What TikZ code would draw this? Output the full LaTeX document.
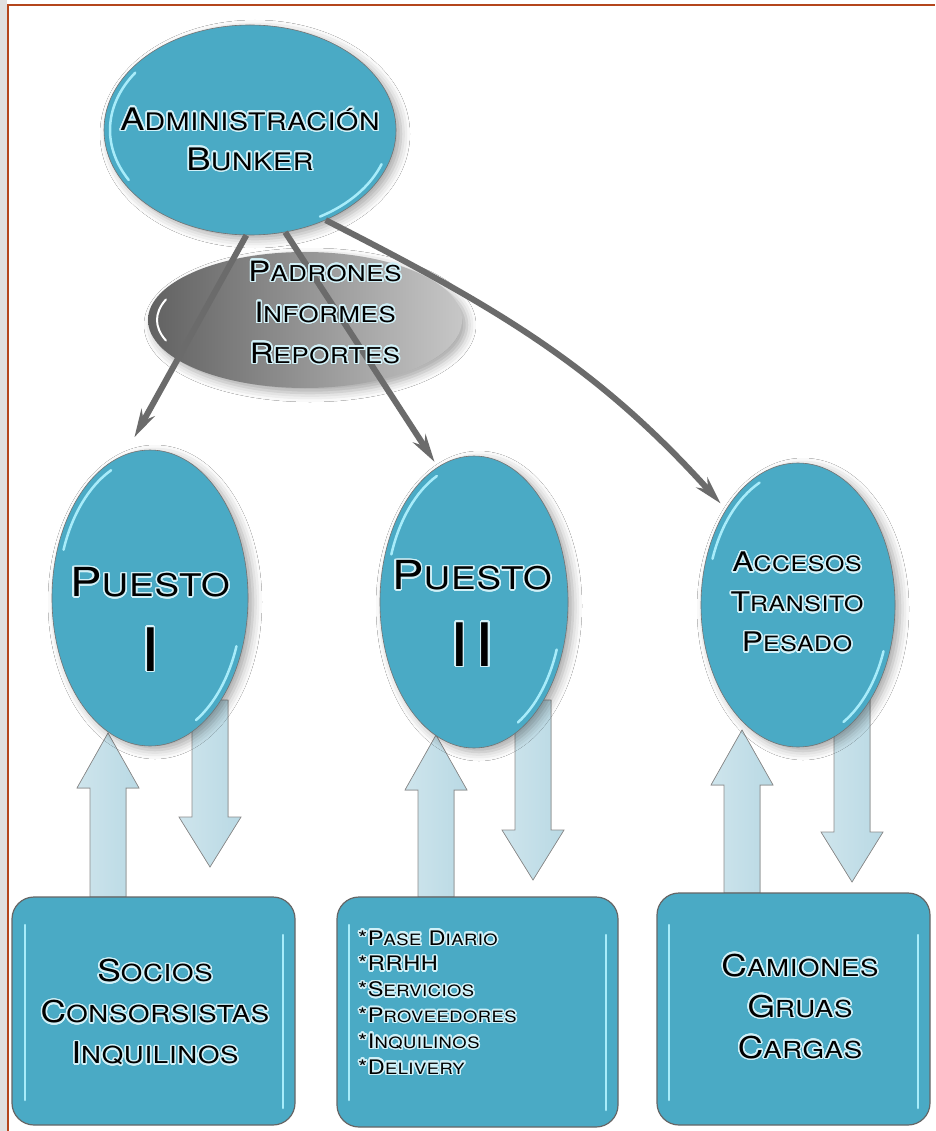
\documentclass[tikz,border=0pt]{standalone}
\usepackage{fontspec}
\usepackage{graphicx}
\usepackage{contour}
\usetikzlibrary{shapes.geometric,arrows.meta,shadows.blur}
\newfontfamily\bank[FakeStretch=1.18,LetterSpace=3]{TeX Gyre Heros}
\definecolor{tealA}{HTML}{4AAAC5}
\definecolor{hlc}{HTML}{A8ECFA}
\definecolor{pale}{HTML}{B9D9E4}
\definecolor{framec}{HTML}{B4461C}
\definecolor{glowc}{HTML}{D2F1F8}
\contourlength{1.5pt}
\contournumber{24}
\newcommand\kc[2]{#1\scalebox{0.78}{#2}}
\newcommand\gl[1]{\contour{glowc}{#1}}
\newcommand\uparr[3]{\filldraw[barr] (#1-18,#2) -- (#1-18,#3+55) -- (#1-31,#3+55) -- (#1,#3) -- (#1+31,#3+55) -- (#1+18,#3+55) -- (#1+18,#2) -- cycle;}
\newcommand\downarr[3]{\filldraw[barr] (#1-18,#2) -- (#1-18,#3-50) -- (#1-31,#3-50) -- (#1,#3) -- (#1+31,#3-50) -- (#1+18,#3-50) -- (#1+18,#2) -- cycle;}
\tikzset{
  bub/.style={ellipse, fill=tealA, draw=black!55, line width=0.6pt, inner sep=0pt,
    blur shadow={shadow xshift=5pt, shadow yshift=-4pt, shadow blur radius=9pt, shadow opacity=35}},
  card/.style={rectangle, rounded corners=22pt, fill=tealA, draw=black!60, line width=1.2pt, inner sep=0pt},
  barr/.style={left color=pale!70!white, right color=pale, draw=black!45, line width=0.7pt},
  pipe/.style={draw=black!58, line width=6pt, -{Stealth[length=28pt,width=15pt]}},
  lbl/.style={align=center, inner sep=0pt, text=black},
  hl/.style={draw=hlc, line width=2.5pt, line cap=round},
}
\begin{document}
\begin{tikzpicture}[x=1pt,y=-1pt]
\useasboundingbox (0,0) rectangle (935,1131);
\fill[white] (0,0) rectangle (935,1131);
\fill[black!12] (0,0) rectangle (7,1131);
\draw[framec, line width=2.5pt] (8,1131) -- (8,5) -- (935,5);

% block arrows
\uparr{108}{897}{733}
\downarr{210}{700}{867}
\uparr{436}{897}{735}
\downarr{533}{700}{880}
\uparr{742}{893}{730}
\downarr{852}{700}{882}

% ellipses
\node[ellipse, inner sep=0pt, minimum width=314pt, minimum height=136pt,
  left color=black!62, right color=black!22, middle color=black!42,
  blur shadow={shadow xshift=5pt, shadow yshift=-5pt, shadow blur radius=9pt, shadow opacity=35}] (grey) at (305,320) {};
\node[bub, minimum width=196pt, minimum height=296pt] (p1) at (150,598) {};
\node[bub, minimum width=188pt, minimum height=292pt] (p2) at (474,602) {};
\node[bub, minimum width=194pt, minimum height=284pt] (p3) at (798,605) {};
\node[bub, minimum width=292pt, minimum height=210pt] (admin) at (250,130) {};

% connectors from admin
\draw[pipe, shorten >=20pt] (admin.268) -- (p1.100);
\draw[pipe, shorten >=6pt] (admin.-71) -- (p2.105);
\draw[pipe, shorten >=8pt] (admin.-50) to[out=-27,in=132] (p3.127);

% highlights
\draw[hl] (admin.center) ++(150:140 and 100) arc[start angle=150, end angle=215, x radius=140, y radius=100];
\draw[hl] (admin.center) ++(20:140 and 100) arc[start angle=20, end angle=60, x radius=140, y radius=100];
\draw[white, line width=2pt, line cap=round] (grey.center) ++(160:148 and 60) arc[start angle=160, end angle=200, x radius=148, y radius=60];
\draw[hl] (p1.center) ++(200:92 and 141) arc[start angle=200, end angle=245, x radius=92, y radius=141];
\draw[hl] (p1.center) ++(20:92 and 141) arc[start angle=20, end angle=60, x radius=92, y radius=141];
\draw[hl] (p2.center) ++(200:88 and 139) arc[start angle=200, end angle=245, x radius=88, y radius=139];
\draw[hl] (p2.center) ++(20:88 and 139) arc[start angle=20, end angle=60, x radius=88, y radius=139];
\draw[hl] (p3.center) ++(200:91 and 135) arc[start angle=200, end angle=245, x radius=91, y radius=135];
\draw[hl] (p3.center) ++(20:91 and 135) arc[start angle=20, end angle=60, x radius=91, y radius=135];

% texts in ellipses
\node[lbl, font=\bank\fontsize{31}{40}\selectfont] (admint) at (250,140) {\gl{\kc{A}{DMINISTRACIÓN}}\\\gl{\kc{B}{UNKER}}};
\node[lbl, font=\bank\fontsize{28}{41}\selectfont] (greyt) at (325,313) {\gl{\kc{P}{ADRONES}}\\\gl{\kc{I}{NFORMES}}\\\gl{\kc{R}{EPORTES}}};
\node[lbl, font=\bank\fontsize{40}{48}\selectfont] (p1a) at (150,583) {\gl{\kc{P}{UESTO}}};
\node[lbl, font=\bank\fontsize{60}{60}\selectfont] (p1b) at (150,650) {\gl{I}};
\node[lbl, font=\bank\fontsize{40}{48}\selectfont] (p2a) at (472,576) {\gl{\kc{P}{UESTO}}};
\node[lbl, font=\bank\fontsize{60}{60}\selectfont] (p2b) at (472,645) {\gl{I\hspace{6pt}I}};
\node[lbl, font=\bank\fontsize{27}{40}\selectfont] (p3t) at (797,603) {\gl{\kc{A}{CCESOS}}\\\gl{\kc{T}{RANSITO}}\\\gl{\kc{P}{ESADO}}};

% boxes
\node[card, minimum width=283pt, minimum height=228pt] (box1) at (153.5,1011) {};
\node[card, minimum width=281pt, minimum height=230pt] (box2) at (477.5,1012) {};
\node[card, minimum width=273pt, minimum height=232pt] (box3) at (793.5,1009) {};
\draw[hl] (25,925) -- (25,1100);
\draw[hl] (283,935) -- (283,1108);
\draw[hl] (349,925) -- (349,1100);
\draw[hl] (606,935) -- (606,1110);
\draw[hl] (669,925) -- (669,1100);
\draw[hl] (918,935) -- (918,1108);

\node[lbl, font=\bank\fontsize{30}{41}\selectfont] (box1t) at (155,1013) {\gl{\kc{S}{OCIOS}}\\\gl{\kc{C}{ONSORSISTAS}}\\\gl{\kc{I}{NQUILINOS}}};
\node[lbl, align=left, anchor=west, font=\bank\fontsize{20}{25.8}\selectfont] (box2t) at (358,1003) {\gl{*\kc{P}{ASE} \kc{D}{IARIO}}\\\gl{*RRHH}\\\gl{*\kc{S}{ERVICIOS}}\\\gl{*\kc{P}{ROVEEDORES}}\\\gl{*\kc{I}{NQUILINOS}}\\\gl{*\kc{D}{ELIVERY}}};
\node[lbl, font=\bank\fontsize{30}{41}\selectfont] (box3t) at (800,1007) {\gl{\kc{C}{AMIONES}}\\\gl{\kc{G}{RUAS}}\\\gl{\kc{C}{ARGAS}}};
\end{tikzpicture}
\end{document}
